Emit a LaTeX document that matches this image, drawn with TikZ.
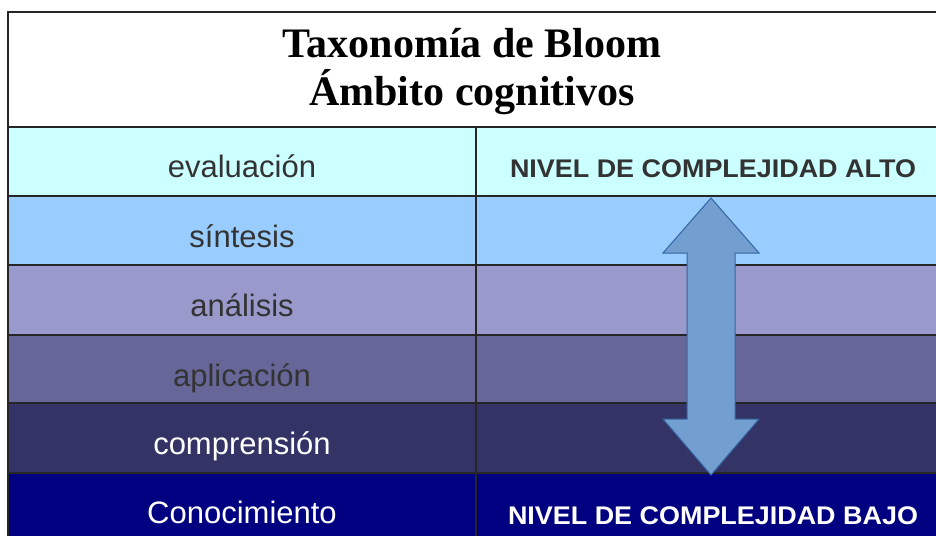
\documentclass[tikz,border=0pt]{standalone}
\usepackage{fontspec}
\setmainfont{Liberation Serif}
\newfontfamily\rowsans{Liberation Sans}
\definecolor{cEval}{HTML}{CCFFFF}
\definecolor{cSint}{HTML}{99CCFF}
\definecolor{cAnal}{HTML}{9999CC}
\definecolor{cApli}{HTML}{666699}
\definecolor{cComp}{HTML}{333366}
\definecolor{cCono}{HTML}{000080}
\definecolor{darktxt}{HTML}{333333}
\definecolor{arrfill}{HTML}{729FCF}
\definecolor{arrdraw}{HTML}{3465A4}
\newcommand{\lvlstretch}[1]{\scalebox{1.056}[1]{#1}}
\begin{document}
\begin{tikzpicture}[x=1pt,y=-1pt,
  gridline/.style={draw=black!85, line width=1.3pt},
  rowtext/.style={anchor=base, inner sep=0pt, font=\rowsans\fontsize{31}{36}\selectfont},
  leveltext/.style={anchor=base, inner sep=0pt, font=\rowsans\bfseries\fontsize{25.5}{30}\selectfont},
  titletext/.style={anchor=base, inner sep=0pt, align=center, font=\bfseries\fontsize{42}{47}\selectfont}]
\useasboundingbox (0,0) rectangle (936,535);
\clip (0,0) rectangle (936,535);
% row fills
\fill[white] (8,12) rectangle (950,127);
\fill[cEval] (8,127) rectangle (950,196);
\fill[cSint] (8,196) rectangle (950,265);
\fill[cAnal] (8,265) rectangle (950,335);
\fill[cApli] (8,335) rectangle (950,403);
\fill[cComp] (8,403) rectangle (950,473);
\fill[cCono] (8,473) rectangle (950,545);
% grid lines
\draw[gridline] (8,545) -- (8,12) -- (950,12);
\foreach \yy in {127,196,265,335,403,473} \draw[gridline] (8,\yy) -- (950,\yy);
\draw[gridline] (476,127) -- (476,545);
% title
\node[titletext] (title) at (472,58) {Taxonomía de Bloom};
\node[titletext] (title2) at (472,105) {Ámbito cognitivos};
% row labels
\node[rowtext, text=darktxt] (eval) at (242,177) {evaluación};
\node[rowtext, text=darktxt] (sint) at (242,247) {síntesis};
\node[rowtext, text=darktxt] (anal) at (242,316) {análisis};
\node[rowtext, text=darktxt] (apli) at (242,386) {aplicación};
\node[rowtext, text=white] (comp) at (242,454) {comprensión};
\node[rowtext, text=white] (cono) at (242,523) {Conocimiento};
% level labels
\node[leveltext, text=darktxt] (alto) at (713,177) {\lvlstretch{NIVEL DE COMPLEJIDAD ALTO}};
\node[leveltext, text=white] (bajo) at (713,524) {\lvlstretch{NIVEL DE COMPLEJIDAD BAJO}};
% double arrow
\draw[fill=arrfill, draw=arrdraw, line width=1pt, line join=miter]
  (711,198) -- (759,253) -- (735,253) -- (735,419) -- (759,419) -- (711,475)
  -- (663,419) -- (687,419) -- (687,253) -- (663,253) -- cycle;
\end{tikzpicture}
\end{document}
